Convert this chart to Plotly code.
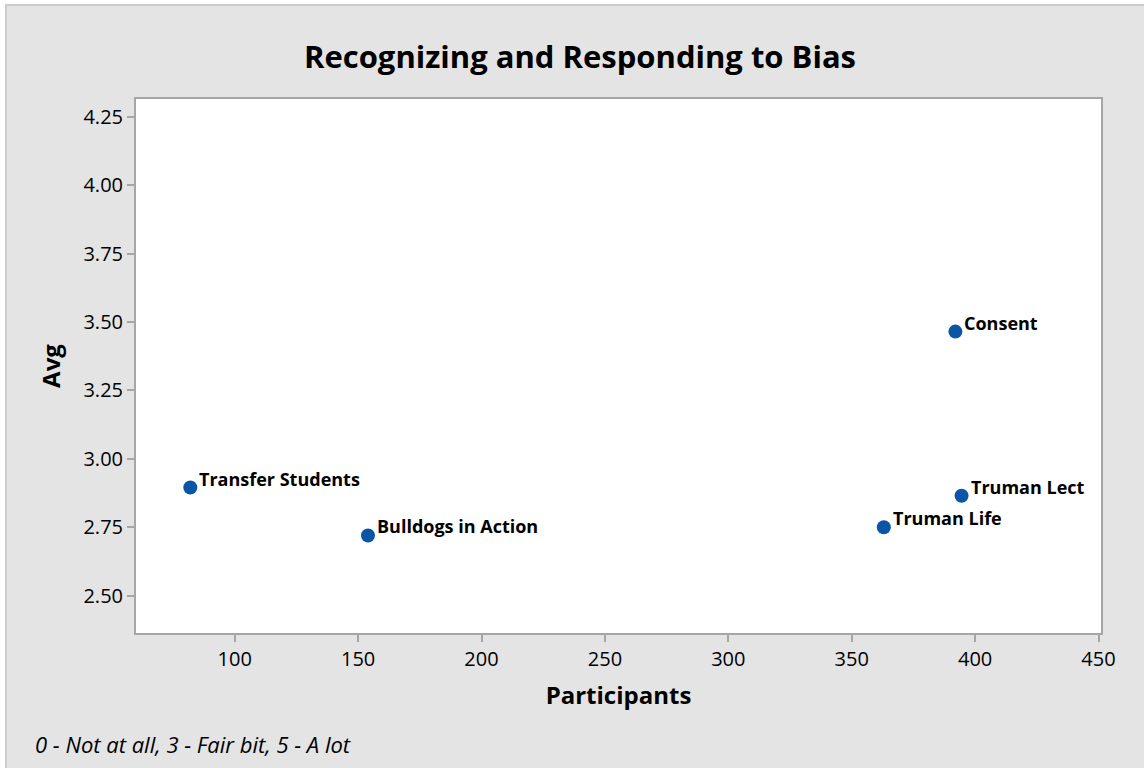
import plotly.graph_objects as go

labels = ["Transfer Students", "Bulldogs in Action", "Consent", "Truman Lect", "Truman Life"]
participants = [82, 154, 392, 394.5, 363]
avg = [2.895, 2.72, 3.465, 2.865, 2.75]

x_ticks = [100, 150, 200, 250, 300, 350, 400, 450]
y_ticks = [2.50, 2.75, 3.00, 3.25, 3.50, 3.75, 4.00, 4.25]

W, H = 1144, 768
ML, MR, MT, MB = 136, 43, 99, 135
PW, PH = W - ML - MR, H - MT - MB

FONT = "Open Sans, Noto Sans, sans-serif"
AXC = "#a6a6a6"

fig = go.Figure()
fig.add_trace(go.Scatter(
    x=participants, y=avg, mode="markers",
    marker=dict(size=14, color="#0a55a6"),
    cliponaxis=False, showlegend=False, hoverinfo="text", text=labels,
))

annotations = [dict(
    x=px, y=py, xref="x", yref="y", text=f"<b>{lab}</b>",
    xanchor="left", yanchor="middle", xshift=7, yshift=9, showarrow=False,
    font=dict(family=FONT, size=18, color="#000000"),
) for lab, px, py in zip(labels, participants, avg)]

annotations.append(dict(
    text="<i>0 - Not at all, 3 - Fair bit, 5 - A lot</i>",
    xref="paper", yref="paper",
    x=(33 - ML) / PW, y=-(744 - MT - PH) / PH,
    xanchor="left", yanchor="middle", showarrow=False,
    font=dict(family=FONT, size=22, color="#000000"),
))

axis_common = dict(
    showgrid=False, zeroline=False, showline=True, linecolor=AXC, linewidth=2,
    mirror=True, ticks="outside", ticklen=7, tickwidth=2, tickcolor=AXC,
    tickfont=dict(family=FONT, size=20, color="#000000"),
)

fig.update_layout(
    width=W, height=H,
    margin=dict(l=ML, r=MR, t=MT, b=MB, pad=0),
    paper_bgcolor="#ffffff", plot_bgcolor="#ffffff",
    title=dict(text="<b>Recognizing and Responding to Bias</b>",
               x=580 / W, xanchor="center", y=1 - 57 / H, yanchor="middle",
               font=dict(family=FONT, size=31, color="#000000")),
    xaxis=dict(range=[60, 451], tickvals=x_ticks, ticktext=[str(v) for v in x_ticks],
               title=dict(text="<b>Participants</b>", standoff=16,
                          font=dict(family=FONT, size=24, color="#000000")),
               **axis_common),
    yaxis=dict(range=[2.3635, 4.315], tickvals=y_ticks,
               ticktext=[f"{v:.2f}" for v in y_ticks],
               title=dict(text="<b>Avg</b>", standoff=16,
                          font=dict(family=FONT, size=24, color="#000000")),
               **axis_common),
    annotations=annotations,
    shapes=[
        dict(type="rect", xref="paper", yref="paper", layer="below",
             x0=(6 - ML) / PW, x1=(1160 - ML) / PW,
             y0=-(H + 20 - MT - PH) / PH, y1=1 + (MT - 5) / PH,
             line=dict(color="#cccccc", width=2), fillcolor="#e4e4e4"),
        dict(type="rect", xref="paper", yref="paper", layer="below",
             x0=0, x1=1, y0=0, y1=1,
             line=dict(width=0), fillcolor="#ffffff"),
    ],
)

fig.write_html("out.html", config={"displayModeBar": False},
               post_script="document.body.style.margin='0';document.body.style.overflow='hidden';")
